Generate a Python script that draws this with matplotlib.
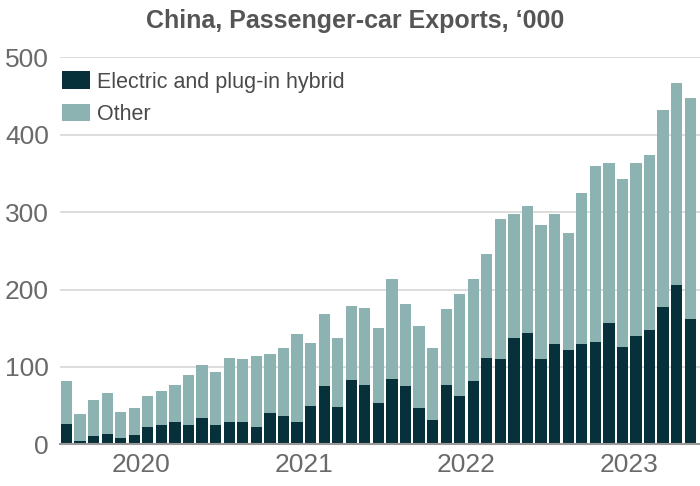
import matplotlib.pyplot as plt
import numpy as np

# monthly exports, '000 (Jan 2020 - Nov 2023)
ev = [27, 5, 11, 14, 9, 12, 22, 25, 29, 25, 34, 25,
      29, 29, 22, 41, 37, 29, 50, 76, 49, 83, 77, 53,
      85, 75, 47, 32, 77, 62, 82, 112, 110, 138, 144, 110,
      130, 122, 130, 132, 157, 126, 140, 148, 178, 206, 162]
total = [82, 39, 58, 67, 42, 47, 62, 69, 77, 90, 102, 94,
         112, 110, 114, 117, 125, 142, 131, 169, 137, 179, 176, 150,
         214, 181, 153, 124, 175, 194, 214, 246, 291, 297, 308, 283,
         298, 273, 325, 360, 363, 343, 363, 373, 432, 467, 447]
years = ['2020', '2021', '2022', '2023']

ev = np.array(ev)
other = np.array(total) - ev
x = np.arange(len(ev))

dark = '#07313a'
light = '#8db2b2'

fig = plt.figure(figsize=(7, 4.86), dpi=100)
ax = fig.add_axes([0.0857, 0.0854, 0.9143, 0.7973])

ax.bar(x, ev, width=0.83, color=dark, label='Electric and plug-in hybrid', zorder=3)
ax.bar(x, other, width=0.83, bottom=ev, color=light, label='Other', zorder=3)

ax.set_xlim(-0.48, 46.72)
ax.set_ylim(0, 500)
ax.set_yticks([0, 100, 200, 300, 400, 500])
ax.set_xticks([5.5 + 12 * i for i in range(len(years))])
ax.set_xticklabels(years)
ax.grid(axis='y', color='#dddddd', linewidth=1.4, zorder=0)
for s in ['top', 'right', 'left']:
    ax.spines[s].set_visible(False)
ax.spines['bottom'].set_color('#999999')
ax.spines['bottom'].set_linewidth(1.5)
ax.spines['bottom'].set_zorder(4)
ax.tick_params(length=0, labelsize=19, colors='#6a6a6a', pad=6)
ax.tick_params(axis='y', pad=8)
for lab in ax.get_xticklabels() + ax.get_yticklabels():
    lab.set_family('Liberation Sans')

fig.text(0.508, 0.957, "China, Passenger-car Exports, \u2018000", ha='center', va='center',
         fontsize=18, fontweight='bold', color='#555555', family='Liberation Sans')

leg = ax.legend(loc='upper left', bbox_to_anchor=(-0.01, 0.985), frameon=False,
                prop={'family': 'Liberation Sans', 'size': 15.5},
                handlelength=1.3, handleheight=0.9, handletextpad=0.3,
                labelspacing=0.5, borderaxespad=0)
for t in leg.get_texts():
    t.set_color('#4a4a4a')

fig.savefig('out.png', dpi=100)
